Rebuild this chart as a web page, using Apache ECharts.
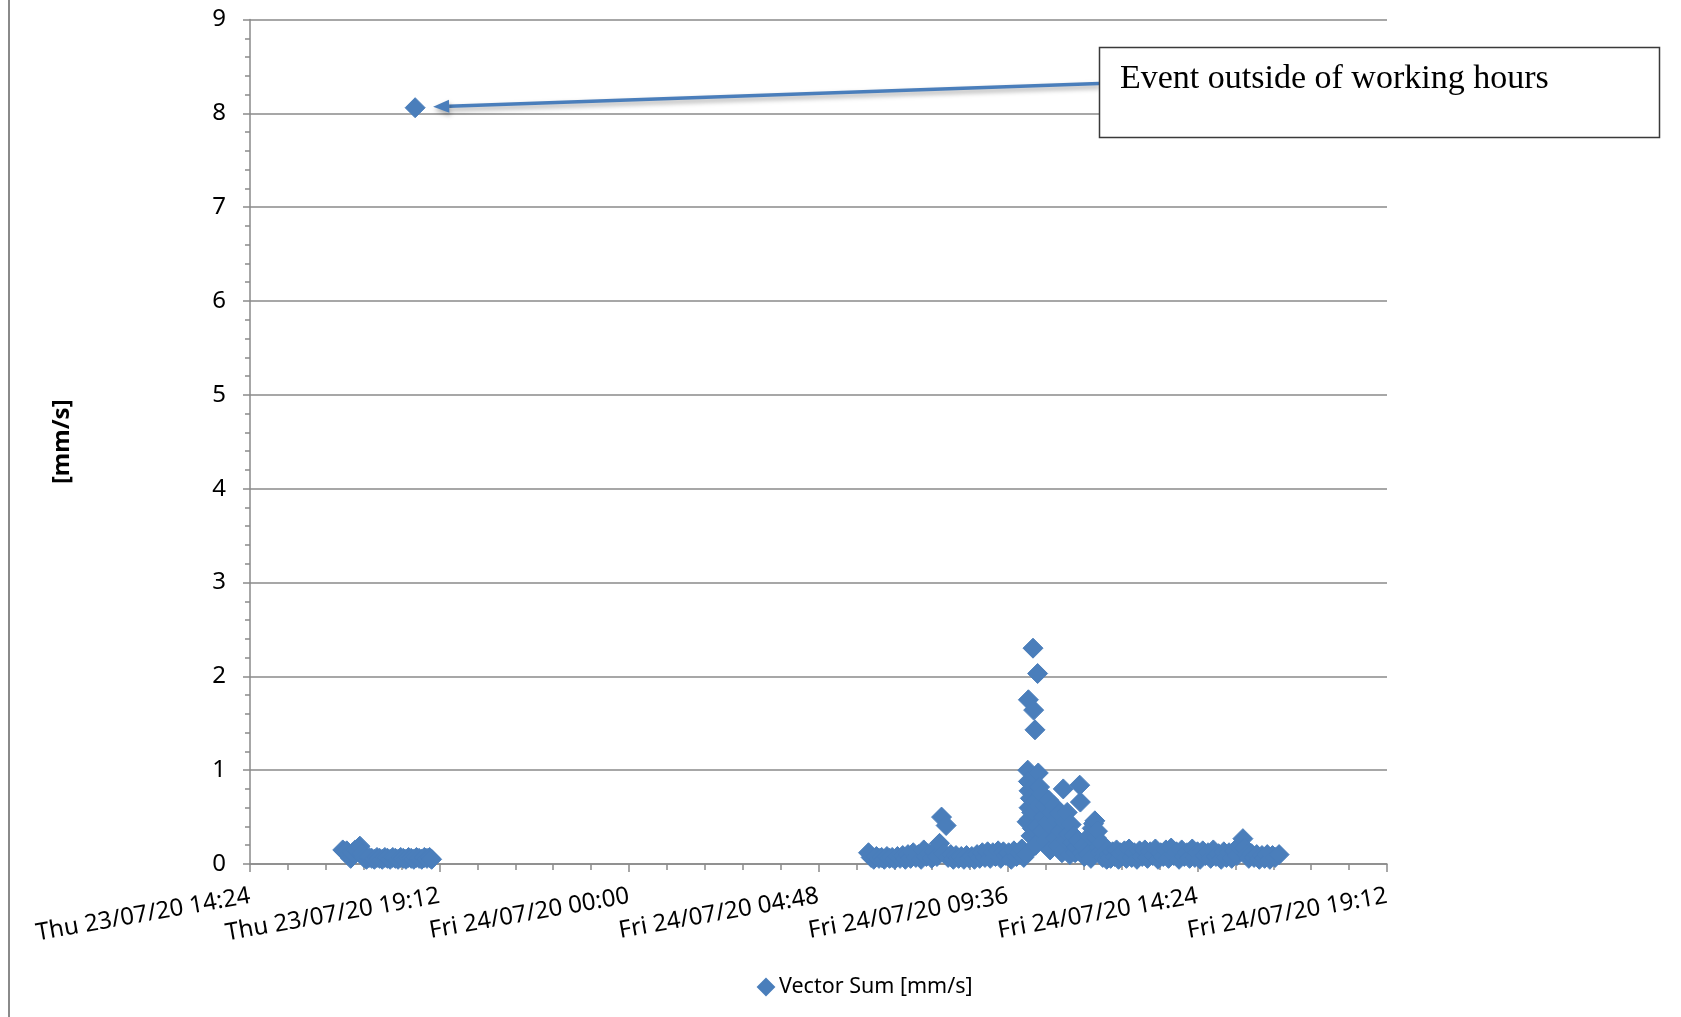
<!DOCTYPE html>
<html><head><meta charset="utf-8">
<script src="https://cdn.jsdelivr.net/npm/echarts@6/dist/echarts.min.js"></script>
<style>html,body{margin:0;padding:0;background:#fff}#c{width:1681px;height:1017px}</style>
</head><body><div id="c"></div>
<script>
// X tick labels (every 4.8 h from Thu 23/07/20 14:24)
const xTickLabels = ['Thu 23/07/20 14:24','Thu 23/07/20 19:12','Fri 24/07/20 00:00','Fri 24/07/20 04:48','Fri 24/07/20 09:36','Fri 24/07/20 14:24','Fri 24/07/20 19:12'];
const seriesName = 'Vector Sum [mm/s]';
const yAxisTitle = '[mm/s]';
const annotationText = 'Event outside of working hours';

// Thursday 23/07/20 readings
const thuTimes = ['16:45','16:48','16:51','16:54','16:57','17:00','17:04','17:08','17:11','17:14','17:17','17:21','17:25','17:29','17:33','17:37','17:41','17:45','17:49','17:53','17:57','18:01','18:05','18:09','18:13','18:17','18:21','18:25','18:29','18:33','18:35','18:37','18:41','18:45','18:49','18:53','18:57','19:00'];
const thuValues = [0.15,0.13,0.14,0.10,0.06,0.12,0.15,0.13,0.19,0.11,0.07,0.05,0.07,0.06,0.05,0.07,0.06,0.05,0.07,0.06,0.05,0.07,0.06,0.05,0.07,0.06,0.05,0.07,0.06,0.05,8.06,0.07,0.06,0.05,0.07,0.06,0.07,0.05];

// Friday 24/07/20 readings
const friTimes = ['06:04','06:08','06:12','06:16','06:20','06:24','06:28','06:32','06:36','06:40','06:44','06:48','06:52','06:56','07:00','07:04','07:08','07:12','07:16','07:20','07:24','07:28','07:32','07:36','07:40','07:44','07:48','07:52','07:55','07:58','08:02','08:05','08:09','08:13','08:17','08:21','08:25','08:29','08:33','08:37','08:41','08:45','08:49','08:53','08:57','09:01','09:05','09:09','09:13','09:17','09:21','09:25','09:29','09:33','09:37','09:41','09:45','09:49','09:53','09:57','10:00','10:03',
'10:05','10:06','10:07','10:07','10:08','10:08','10:09','10:10','10:11','10:12','10:13','10:14','10:15','10:16','10:17','10:18','10:19','10:20','10:21','10:22','10:23','10:24','10:25','10:27','10:28','10:30','10:32','10:34','10:36','10:38','10:40','10:42','10:44','10:46','10:48','10:50','10:52','10:54','10:56','10:58','11:00','11:02','11:04','11:06','11:08','11:10','11:12','11:14','11:16','11:18','11:20','11:23','11:25','11:26','11:28','11:30','11:32','11:35','11:37','11:40','11:42','11:44','11:46','11:48','11:50','11:52','11:54','11:56','11:58',
'12:00','12:03','12:06','12:09','12:12','12:15','12:18','12:21','12:24','12:27','12:30','12:33','12:36','12:40','12:44','12:48','12:52','12:56','13:00','13:04','13:08','13:12','13:16','13:20','13:24','13:28','13:32','13:36','13:40','13:44','13:48','13:52','13:56','14:00','14:04','14:08','14:12','14:16','14:20','14:24','14:28','14:32','14:36','14:40','14:44','14:48','14:52','14:56','15:00','15:04','15:08','15:12','15:16','15:20','15:24','15:27','15:30','15:33','15:36','15:39','15:42','15:46','15:50','15:54','15:58','16:02','16:06','16:10','16:14','16:18','16:22','16:28'];
const friValues = [0.12,0.07,0.05,0.08,0.06,0.07,0.05,0.08,0.06,0.07,0.05,0.08,0.06,0.09,0.05,0.10,0.06,0.12,0.07,0.10,0.05,0.15,0.08,0.11,0.06,0.13,0.08,0.22,0.50,0.12,0.41,0.07,0.10,0.05,0.09,0.06,0.08,0.05,0.09,0.06,0.08,0.05,0.10,0.06,0.12,0.07,0.13,0.06,0.12,0.08,0.14,0.06,0.13,0.09,0.12,0.05,0.14,0.08,0.12,0.16,0.07,0.10,
0.45,1.00,1.75,0.88,0.78,0.60,0.48,0.70,0.30,0.55,0.38,2.30,1.64,0.55,1.43,0.20,0.68,0.40,2.03,0.97,0.62,0.82,0.60,0.75,0.35,0.50,0.62,0.25,0.45,0.68,0.15,0.55,0.38,0.62,0.28,0.47,0.20,0.54,0.35,0.12,0.80,0.45,0.25,0.55,0.32,0.10,0.42,0.22,0.30,0.12,0.18,0.25,0.84,0.66,0.12,0.20,0.08,0.15,0.10,0.30,0.06,0.38,0.43,0.46,0.28,0.35,0.18,0.12,0.22,
0.07,0.12,0.05,0.10,0.06,0.13,0.08,0.15,0.05,0.12,0.09,0.14,0.06,0.16,0.07,0.12,0.05,0.14,0.08,0.15,0.06,0.13,0.09,0.16,0.05,0.12,0.08,0.15,0.06,0.17,0.09,0.13,0.05,0.15,0.08,0.12,0.06,0.16,0.07,0.13,0.05,0.14,0.09,0.12,0.06,0.15,0.08,0.11,0.05,0.13,0.07,0.12,0.06,0.14,0.09,0.18,0.21,0.27,0.17,0.10,0.06,0.11,0.07,0.10,0.05,0.09,0.06,0.10,0.05,0.09,0.07,0.10];

// hours since Thu 23/07/20 00:00
function toHours(t, dayOffset){const p=t.split(':');return dayOffset*24+(+p[0])+(+p[1])/60;}
const points = [];
thuTimes.forEach((t,i)=>points.push([toHours(t,0), thuValues[i]]));
friTimes.forEach((t,i)=>points.push([toHours(t,1), friValues[i]]));

const GRAY = '#8a8a8a';
const BLUE = '#4A7EBB';
const chart = echarts.init(document.getElementById('c'), null, {renderer:'canvas'});
chart.setOption({
  animation:false,
  backgroundColor:'#ffffff',
  textStyle:{fontFamily:'"Noto Sans", sans-serif'},
  grid:{left:250, right:294, top:19.5, bottom:153, outerBoundsMode:'none', containLabel:false},
  xAxis:{
    type:'value', min:14.4, max:43.2, interval:4.8,
    axisLine:{show:true, lineStyle:{color:GRAY, width:1.5}},
    axisTick:{show:true, length:8, lineStyle:{color:GRAY, width:1.5}},
    minorTick:{show:true, splitNumber:5, length:6, lineStyle:{color:GRAY, width:1.5}},
    splitLine:{show:false},
    axisLabel:{
      rotate:10, margin:32, fontSize:24, color:'#000', fontFamily:'"Noto Sans", sans-serif',
      showMinLabel:true, showMaxLabel:true, hideOverlap:false,
      formatter:function(v){const i=Math.round((v-14.4)/4.8);return xTickLabels[i]||'';}
    }
  },
  yAxis:{
    type:'value', min:0, max:9, interval:1,
    name:yAxisTitle, nameLocation:'middle', nameGap:176, nameRotate:90,
    nameTextStyle:{fontSize:24, fontWeight:'bold', color:'#000', fontFamily:'"Noto Sans", sans-serif'},
    axisLine:{show:true, lineStyle:{color:GRAY, width:1.5}},
    axisTick:{show:true, length:7, lineStyle:{color:GRAY, width:1.5}},
    minorTick:{show:true, splitNumber:5, length:5, lineStyle:{color:GRAY, width:1.5}},
    splitLine:{show:true, lineStyle:{color:GRAY, width:1.5}},
    axisLabel:{margin:24, fontSize:24, color:'#000', fontFamily:'"Noto Sans", sans-serif'}
  },
  legend:{
    show:true, left:752, top:971, icon:'diamond', itemWidth:16, itemHeight:16, itemGap:5,
    textStyle:{fontSize:21.5, color:'#000', fontFamily:'"Noto Sans", sans-serif'},
    data:[seriesName]
  },
  series:[{
    name:seriesName, type:'scatter', symbol:'diamond', symbolSize:20,
    itemStyle:{color:BLUE, opacity:1, borderColor:BLUE, borderWidth:1},
    data:points
  }]
});

// Annotation box + arrow pointing to the largest reading
let maxIdx=0; points.forEach((p,i)=>{if(p[1]>points[maxIdx][1])maxIdx=i;});
const pt = chart.convertToPixel({seriesIndex:0}, points[maxIdx]);
const tip=[pt[0]+18, pt[1]-1];
const start=[1099, 83.5];
const dx=tip[0]-start[0], dy=tip[1]-start[1], L=Math.hypot(dx,dy);
const ux=dx/L, uy=dy/L, nx=-uy, ny=ux;
const headLen=16, headW=6.5;
const base=[tip[0]-ux*headLen, tip[1]-uy*headLen];
const shadow={shadowBlur:5, shadowColor:'rgba(0,0,0,0.35)', shadowOffsetX:1, shadowOffsetY:3};
chart.setOption({
  graphic:[
    {type:'line', silent:true, shape:{x1:9,y1:0,x2:9,y2:1017}, style:{stroke:GRAY, lineWidth:2}},
    {type:'line', silent:true, z:10, shape:{x1:start[0],y1:start[1],x2:base[0],y2:base[1]}, style:Object.assign({stroke:BLUE, lineWidth:3.5}, shadow)},
    {type:'polygon', silent:true, z:10, shape:{points:[tip,[base[0]+nx*headW,base[1]+ny*headW],[base[0]-nx*headW,base[1]-ny*headW]]}, style:Object.assign({fill:BLUE}, shadow)},
    {type:'rect', silent:true, z:11, shape:{x:1099.5,y:47.5,width:560,height:90}, style:{fill:'#fff', stroke:'#3a3a3a', lineWidth:1.5}},
    {type:'text', silent:true, z:12, x:1120, y:79, style:{text:annotationText, fill:'#000', font:'34px "Liberation Serif", serif', verticalAlign:'middle', align:'left'}}
  ]
});
</script></body></html>
